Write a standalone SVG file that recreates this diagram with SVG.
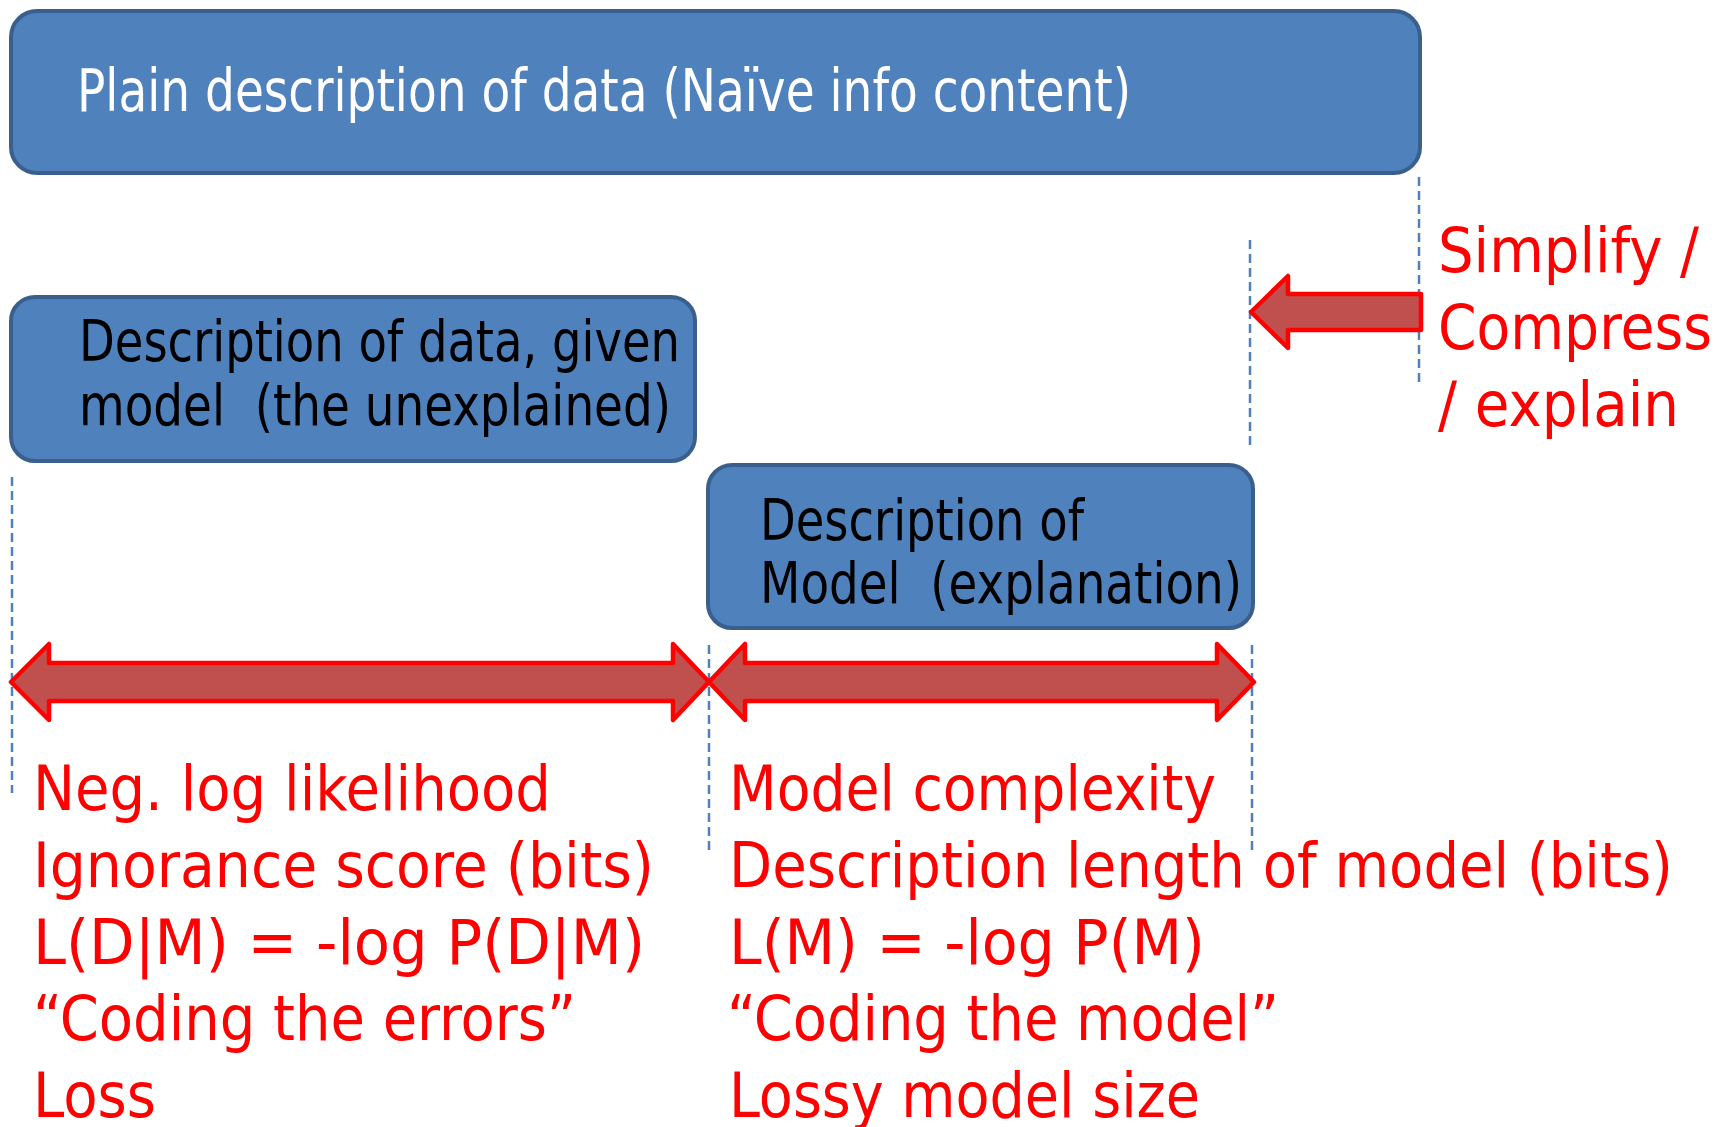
<svg xmlns="http://www.w3.org/2000/svg" width="1721" height="1127" viewBox="0 0 1721 1127">
  <style>
    .box { fill: #4F81BD; stroke: #3A5F8C; stroke-width: 4; }
    .t { font-family: "DejaVu Sans Condensed", "DejaVu Sans", sans-serif; font-stretch: condensed; }
    .white { fill: #FFFFFF; font-size: 58px; }
    .dark { fill: #000000; font-size: 57px; white-space: pre; }
    .red { fill: #FF0000; font-size: 63px; }
    .guide { stroke: #4F81BD; stroke-width: 2.5; stroke-dasharray: 9 5; fill: none; }
    .arrow { fill: #C0504D; stroke: #FF0000; stroke-width: 4.5; stroke-linejoin: round; }
  </style>
  <rect width="1721" height="1127" fill="#FFFFFF"/>

  <!-- dashed guide lines marking the span edges -->
  <g id="guides">
    <line class="guide" x1="1419" y1="177" x2="1419" y2="383"/>
    <line class="guide" x1="1250" y1="240" x2="1250" y2="448"/>
    <line class="guide" x1="12" y1="477" x2="12" y2="793"/>
    <line class="guide" x1="709" y1="645" x2="709" y2="851"/>
    <line class="guide" x1="1252" y1="645" x2="1252" y2="851"/>
  </g>

  <!-- nodes -->
  <g id="node-plain">
    <rect class="box" x="11" y="11" width="1409" height="162" rx="26" ry="26"/>
    <text class="t white" x="77" y="111" textLength="1054" lengthAdjust="spacingAndGlyphs">Plain description of data (Naïve info content)</text>
  </g>
  <g id="node-given">
    <rect class="box" x="11" y="297" width="684" height="164" rx="24" ry="24"/>
    <text class="t dark" x="79" y="361" textLength="601" lengthAdjust="spacingAndGlyphs">Description of data, given</text>
    <text class="t dark" x="79" y="425" textLength="592" lengthAdjust="spacingAndGlyphs">model  (the unexplained)</text>
  </g>
  <g id="node-model">
    <rect class="box" x="708" y="465" width="545" height="163" rx="24" ry="24"/>
    <text class="t dark" x="760" y="540" textLength="324" lengthAdjust="spacingAndGlyphs">Description of</text>
    <text class="t dark" x="760" y="603" textLength="482" lengthAdjust="spacingAndGlyphs">Model  (explanation)</text>
  </g>

  <!-- connectors: block arrows -->
  <g id="connectors">
    <polygon class="arrow" points="1251,312 1288,276 1288,294 1421,294 1421,330 1288,330 1288,348"/>
    <polygon class="arrow" points="11,682 49,644 49,663 673,663 673,644 709,682 673,720 673,701 49,701 49,720"/>
    <polygon class="arrow" points="709,682 745,644 745,663 1217,663 1217,644 1254,682 1217,720 1217,701 745,701 745,720"/>
  </g>

  <!-- annotations -->
  <g id="label-simplify" class="t red">
    <text x="1438" y="272" textLength="261" lengthAdjust="spacingAndGlyphs">Simplify /</text>
    <text x="1438" y="349" textLength="274" lengthAdjust="spacingAndGlyphs">Compress</text>
    <text x="1438" y="426" textLength="241" lengthAdjust="spacingAndGlyphs">/ explain</text>
  </g>
  <g id="label-data-cost" class="t red">
    <text x="33" y="810" textLength="518" lengthAdjust="spacingAndGlyphs">Neg. log likelihood</text>
    <text x="33" y="887" textLength="621" lengthAdjust="spacingAndGlyphs">Ignorance score (bits)</text>
    <text x="33" y="964" textLength="612" lengthAdjust="spacingAndGlyphs">L(D|M) = -log P(D|M)</text>
    <text x="33" y="1040" textLength="543" lengthAdjust="spacingAndGlyphs">“Coding the errors”</text>
    <text x="33" y="1117" textLength="123" lengthAdjust="spacingAndGlyphs">Loss</text>
  </g>
  <g id="label-model-cost" class="t red">
    <text x="729" y="810" textLength="487" lengthAdjust="spacingAndGlyphs">Model complexity</text>
    <text x="729" y="887" textLength="944" lengthAdjust="spacingAndGlyphs">Description length of model (bits)</text>
    <text x="729" y="964" textLength="476" lengthAdjust="spacingAndGlyphs">L(M) = -log P(M)</text>
    <text x="727" y="1040" textLength="552" lengthAdjust="spacingAndGlyphs">“Coding the model”</text>
    <text x="729" y="1117" textLength="471" lengthAdjust="spacingAndGlyphs">Lossy model size</text>
  </g>
</svg>
